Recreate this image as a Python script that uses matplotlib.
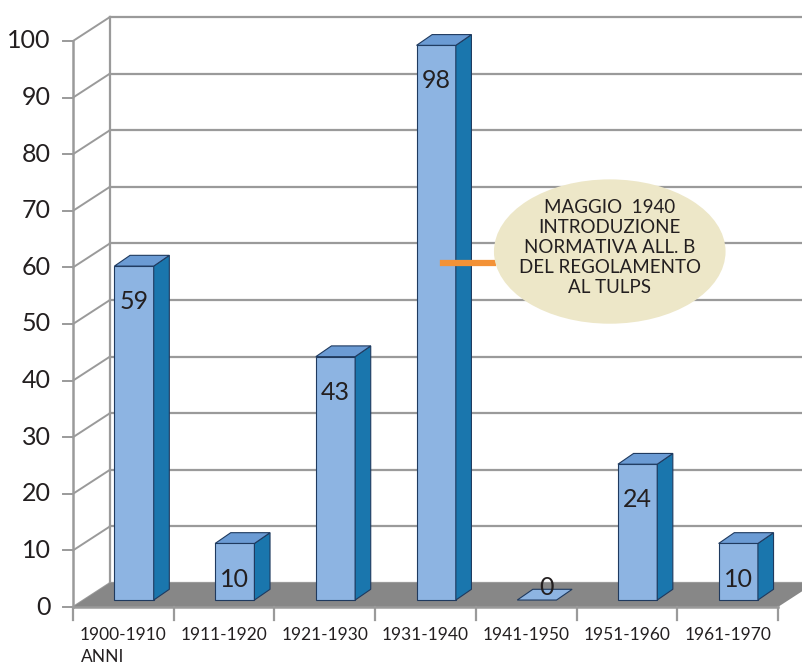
import numpy as np
import matplotlib.pyplot as plt
from matplotlib.patches import Polygon, Ellipse

plt.rcParams['font.family'] = ['Lato', 'DejaVu Sans']

categories = ['1900-1910', '1911-1920', '1921-1930', '1931-1940',
              '1941-1950', '1951-1960', '1961-1970']
values = [59, 10, 43, 98, 0, 24, 10]
yticks = [0, 10, 20, 30, 40, 50, 60, 70, 80, 90, 100]
note_lines = ['MAGGIO  1940', 'INTRODUZIONE', 'NORMATIVA ALL. B',
              'DEL REGOLAMENTO', 'AL TULPS']

# fake 3d geometry (x in category units, y in value units)
DX, DY = 0.367, 4.24        # full depth of the plot box
BF = 0.29                   # depth fraction where bars sit
BW = 0.39                   # bar width
BDX, BDY = 0.155, 1.9       # bar depth
YMAX = 100

front = '#8db4e2'
side = '#1a76ad'
top = '#6b9bd4'
edge = '#1f3a5f'
wall = '#9a9a9a'
txt = '#231f20'

fig = plt.figure(figsize=(8.03, 6.64), dpi=100)
ax = fig.add_axes([0, 0, 1, 1])
ax.set_xlim(-0.725, 7.249)
ax.set_ylim(-10.07, 107.24)
ax.axis('off')

n = len(categories)

# floor
ax.add_patch(Polygon([(0, 0), (n, 0), (n + DX, DY), (DX, DY)],
                     closed=True, fc='#878787', ec='none', zorder=1))

# back wall gridlines + side wall diagonals
for v in yticks:
    ax.plot([DX, n + DX + 1], [v + DY, v + DY], color=wall, lw=1.6, zorder=0)
    ax.plot([0, DX], [v, v + DY], color=wall, lw=1.4, zorder=0)
    ax.plot([-0.1, 0], [v, v], color=wall, lw=1.4, zorder=0)
    ax.text(-0.22, v, str(v), ha='right', va='center', fontsize=18,
            color=txt)
ax.plot([DX, DX], [DY, YMAX + DY], color=wall, lw=1.6, zorder=0)
ax.plot([0, 0], [0, YMAX], color=wall, lw=1.8, zorder=2)
ax.plot([0, n], [0, 0], color=wall, lw=1.8, zorder=2)
for i in range(1, n + 1):
    ax.plot([i, i], [0, -2.3], color=wall, lw=1.6, zorder=2)
ax.plot([0, 0], [0, -2.3], color=wall, lw=1.6, zorder=2)

# bars
for i, v in enumerate(values):
    x0 = i + 0.5 - BW / 2 + BF * DX
    x1 = x0 + BW
    y0 = BF * DY
    y1 = y0 + v
    if v > 0:
        ax.add_patch(Polygon([(x0, y0), (x1, y0), (x1, y1), (x0, y1)],
                             fc=front, ec=edge, lw=0.8, zorder=3))
        ax.add_patch(Polygon([(x1, y0), (x1 + BDX, y0 + BDY),
                              (x1 + BDX, y1 + BDY), (x1, y1)],
                             fc=side, ec=edge, lw=0.8, zorder=3))
    ax.add_patch(Polygon([(x0, y1), (x1, y1), (x1 + BDX, y1 + BDY),
                          (x0 + BDX, y1 + BDY)],
                         fc=top if v > 0 else front, ec=edge, lw=0.8,
                         zorder=3))
    lx = (x0 + x1) / 2
    ly = y1 - 6.3 if v > 0 else y1 + 2.2
    ax.text(lx + (0.1 if v == 0 else 0), ly, str(v), ha='center',
            va='center', fontsize=18, color=txt, zorder=4)

# category labels
for i, c in enumerate(categories):
    ax.text(i + 0.5, -4.9, c, ha='center', va='center',
            fontsize=12.5, color=txt)
ax.text(0.08, -8.8, 'ANNI', ha='left', va='center', fontsize=12.5,
        color=txt)

# callout
ax.plot([3.67, 4.17], [60.8, 60.8], color='#f39237', lw=4.5, zorder=5)
ax.add_patch(Ellipse((5.33, 62.8), 2.30, 25.5, fc='#ede7c8', ec='none',
                     zorder=5))
ax.text(5.33, 63.5, '\n'.join(note_lines), ha='center', va='center',
        fontsize=13.5, color=txt, linespacing=1.2, zorder=6)

fig.savefig('out.png', dpi=100)
